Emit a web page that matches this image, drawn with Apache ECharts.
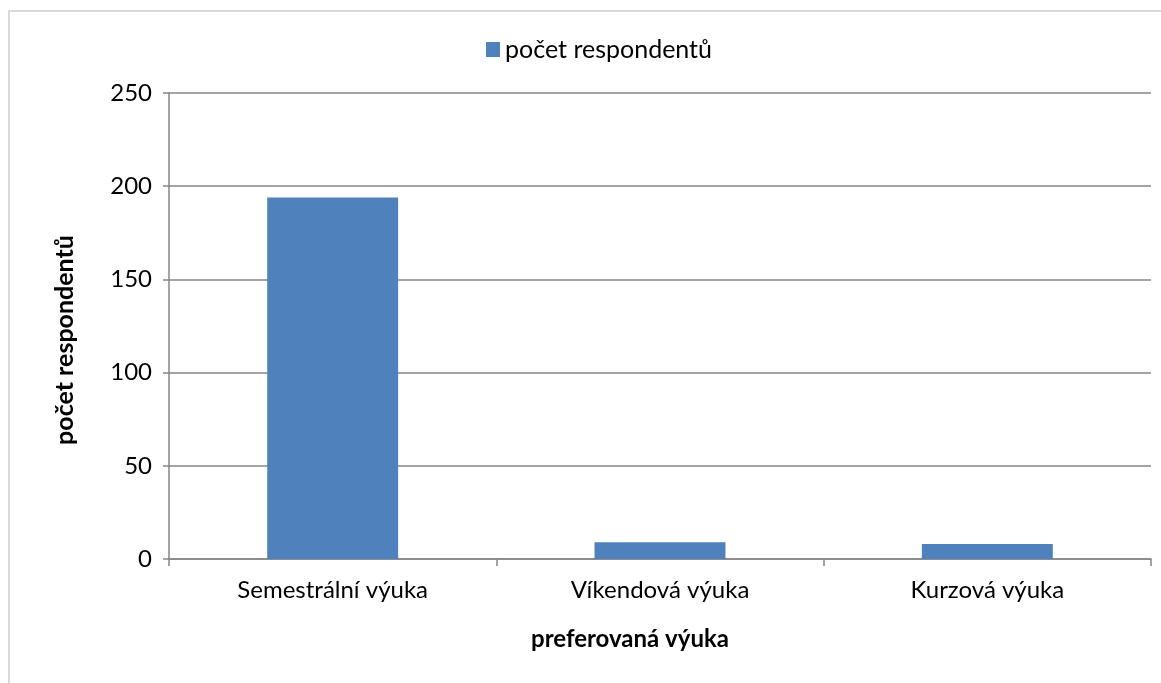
<!DOCTYPE html>
<html><head><meta charset="utf-8">
<script src="https://cdn.jsdelivr.net/npm/echarts@6/dist/echarts.min.js"></script>
<style>
html,body{margin:0;padding:0;background:#fff;}
#frame{position:absolute;left:8px;top:10px;width:1160px;height:690px;border:2px solid #d9d9d9;box-sizing:border-box;}
#c{position:absolute;left:0;top:0;width:1161px;height:683px;}
</style></head>
<body><div id="frame"></div><div id="c"></div>
<script>
const categories = ['Semestrální výuka', 'Víkendová výuka', 'Kurzová výuka'];
const respondents = [194, 9, 8];
const seriesName = 'počet respondentů';
const yTitle = 'počet respondentů';
const xTitle = 'preferovaná výuka';

const chart = echarts.init(document.getElementById('c'));
const font = 'Lato, "Open Sans", sans-serif';
chart.setOption({
  animation: false,
  textStyle: {fontFamily: font},
  legend: {
    top: 32, left: 481,
    itemWidth: 14, itemHeight: 15, itemGap: 10,
    icon: 'rect',
    textStyle: {fontSize: 25, color: '#000', fontFamily: font},
    data: [seriesName]
  },
  grid: {left: 169, right: 10, top: 93, bottom: 124, containLabel: false},
  xAxis: {
    type: 'category', data: categories,
    name: xTitle, nameLocation: 'middle', nameGap: 68,
    nameTextStyle: {fontSize: 24, fontWeight: 'bold', color: '#000', fontFamily: font, padding: [0, 60, 0, 0]},
    axisLine: {lineStyle: {color: '#868686', width: 1.5}},
    axisTick: {show: true, length: 7, alignWithLabel: false, lineStyle: {color: '#868686', width: 1.5}},
    axisLabel: {fontSize: 24, color: '#000', margin: 19, fontFamily: font}
  },
  yAxis: {
    type: 'value', min: 0, max: 250, interval: 50,
    name: yTitle, nameLocation: 'middle', nameGap: 92, nameRotate: 90,
    nameTextStyle: {fontSize: 25, fontWeight: 'bold', color: '#000', fontFamily: font, padding: [0, 28, 0, 0]},
    axisLine: {show: true, lineStyle: {color: '#868686', width: 1.5}},
    axisTick: {show: true, length: 6, lineStyle: {color: '#868686', width: 1.5}},
    splitLine: {lineStyle: {color: '#868686', width: 1.5}},
    axisLabel: {fontSize: 24, color: '#000', margin: 17, fontFamily: font}
  },
  series: [{
    name: seriesName, type: 'bar', data: respondents,
    barCategoryGap: '60%',
    itemStyle: {color: '#4f81bd'}
  }]
});
</script></body></html>
